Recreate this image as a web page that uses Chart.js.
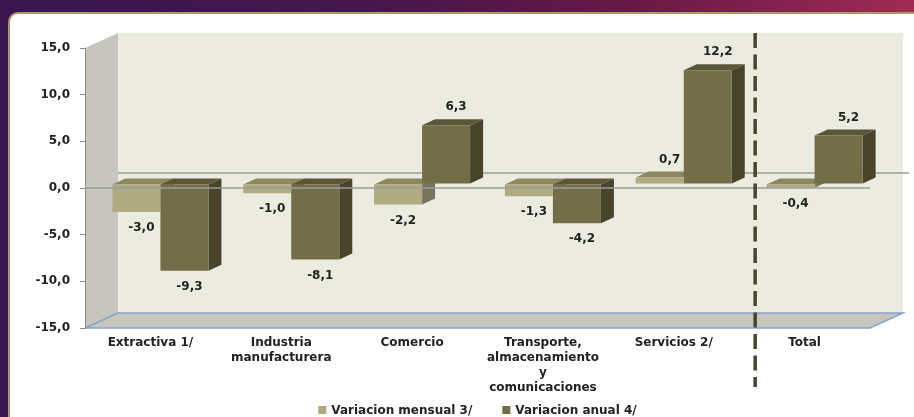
<!DOCTYPE html>
<html>
<head>
<meta charset="utf-8">
<script src="https://cdn.jsdelivr.net/npm/chart.js@4.4.1/dist/chart.umd.min.js"></script>
<style>
  html, body { margin: 0; padding: 0; }
  body {
    width: 914px; height: 417px; overflow: hidden; position: relative;
    background: linear-gradient(90deg, #3a164f 0%, #45164a 40%, #6a1846 70%, #a02a55 100%);
  }
  #panel {
    position: absolute; left: 8px; top: 12px; width: 920px; height: 420px;
    background: #fff; border: 2px solid #a99a6a; border-top-left-radius: 10px;
  }
  #wrap { position: absolute; left: 0; top: 0; width: 914px; height: 417px; }
</style>
</head>
<body>
<div id="panel"></div>
<div id="wrap"><canvas id="chart" width="914" height="417"></canvas></div>
<script>
// data
const categories = [
  ['Extractiva 1/'],
  ['Industria', 'manufacturera'],
  ['Comercio'],
  ['Transporte,', 'almacenamiento', 'y', 'comunicaciones'],
  ['Servicios 2/'],
  ['Total']
];
const seriesNames = ['Variacion mensual 3/', 'Variacion anual 4/'];
const mensual = [-3.0, -1.0, -2.2, -1.3, 0.7, -0.4];
const anual = [-9.3, -8.1, 6.3, -4.2, 12.2, 5.2];
const yMin = -15, yMax = 15, yStep = 5;

// colours: front, top, side
const lightFaces = ['#b0aa80', '#8b8762', '#77755d'];
const darkFaces = ['#736d48', '#5a5638', '#48442c'];

const FONT = { family: 'DejaVu Sans', size: 12, weight: 'bold' };
const TEXT = '#222222';

// 3D look: wall depth and bar depth
const DX = 33, DY = -15;      // wall depth
const BX = 10, BY = -4;       // bars sit mid depth
const EX = 13, EY = -6;       // bar extrusion

function fmt(v) { return v.toFixed(1).replace('.', ','); }

function poly(ctx, pts, fill) {
  ctx.beginPath();
  ctx.moveTo(pts[0][0], pts[0][1]);
  for (let i = 1; i < pts.length; i++) ctx.lineTo(pts[i][0], pts[i][1]);
  ctx.closePath();
  ctx.fillStyle = fill;
  ctx.fill();
}

const box3d = {
  id: 'box3d',
  beforeDraw(chart) {
    const ctx = chart.ctx;
    const { left, right, top, bottom } = chart.chartArea;
    const y0 = chart.scales.y.getPixelForValue(0);
    ctx.save();
    // back wall
    poly(ctx, [[left + DX, top + DY], [right + DX, top + DY], [right + DX, bottom + DY], [left + DX, bottom + DY]], '#ecebe0');
    // side wall
    poly(ctx, [[left, top], [left + DX, top + DY], [left + DX, bottom + DY], [left, bottom]], '#c7c6be');
    // floor
    poly(ctx, [[left, bottom], [left + DX, bottom + DY], [right + DX, bottom + DY], [right, bottom]], '#c7c6be');
    ctx.strokeStyle = '#86a2cc';
    ctx.lineWidth = 1.5;
    ctx.beginPath();
    ctx.moveTo(left, bottom);
    ctx.lineTo(left + DX, bottom + DY);
    ctx.lineTo(right + DX, bottom + DY);
    ctx.lineTo(right, bottom);
    ctx.lineTo(left, bottom);
    ctx.stroke();
    // zero line on the back wall
    ctx.strokeStyle = '#9b9b9b';
    ctx.lineWidth = 1.5;
    ctx.beginPath();
    ctx.moveTo(left + DX, y0 + DY);
    ctx.lineTo(right + DX + 6, y0 + DY);
    ctx.stroke();
    ctx.restore();
  },
  beforeDatasetsDraw(chart) {
    const ctx = chart.ctx;
    ctx.save();
    ctx.translate(BX, BY);
    [lightFaces, darkFaces].forEach((faces, di) => {
      chart.getDatasetMeta(di).data.forEach(el => {
        const { x, y, base, width } = el.getProps(['x', 'y', 'base', 'width'], true);
        const l = x - width / 2, r = x + width / 2;
        const t = Math.min(y, base), b = Math.max(y, base);
        poly(ctx, [[r, t], [r + EX, t + EY], [r + EX, b + EY], [r, b]], faces[2]);
        poly(ctx, [[l, t], [l + EX, t + EY], [r + EX, t + EY], [r, t]], faces[1]);
      });
    });
  },
  afterDatasetsDraw(chart) {
    const ctx = chart.ctx;
    ctx.restore();
    const { left, right, top, bottom } = chart.chartArea;
    const xs = chart.scales.x, ys = chart.scales.y;
    const y0 = ys.getPixelForValue(0);
    ctx.save();
    // front zero line
    ctx.strokeStyle = '#9b9b9b';
    ctx.lineWidth = 1.5;
    ctx.beginPath();
    ctx.moveTo(left, y0);
    ctx.lineTo(right, y0);
    ctx.stroke();

    // value labels
    ctx.font = 'bold 12px "DejaVu Sans"';
    ctx.fillStyle = TEXT;
    ctx.textAlign = 'center';
    ctx.textBaseline = 'middle';
    [mensual, anual].forEach((vals, di) => {
      chart.getDatasetMeta(di).data.forEach((el, i) => {
        const { x, y, base } = el.getProps(['x', 'y', 'base'], true);
        const v = vals[i];
        if (v < 0) {
          ctx.fillText(fmt(v), x + BX + 5, Math.max(y, base) + BY + 16);
        } else {
          ctx.fillText(fmt(v), x + BX + 10, Math.min(y, base) + BY - 18);
        }
      });
    });

    // dashed separator before Total
    const sx = (xs.getPixelForTick(4) + xs.getPixelForTick(5)) / 2 + 16;
    ctx.strokeStyle = '#48452f';
    ctx.lineWidth = 3.5;
    ctx.setLineDash([15, 6.5]);
    ctx.beginPath();
    ctx.moveTo(sx, top + DY);
    ctx.lineTo(sx, bottom + 59);
    ctx.stroke();
    ctx.setLineDash([]);

    // legend
    const ly = 410;
    const items = seriesNames.map((n, i) => ({ n, c: chart.data.datasets[i].backgroundColor, w: ctx.measureText(n).width }));
    const gap = 30;
    const total = items.reduce((s, it) => s + 13 + it.w, 0) + gap;
    let cx = (left + right) / 2 - total / 2;
    ctx.textAlign = 'left';
    items.forEach(it => {
      ctx.fillStyle = it.c;
      ctx.fillRect(cx, ly - 4, 8, 8);
      ctx.fillStyle = TEXT;
      ctx.fillText(it.n, cx + 13, ly + 1);
      cx += 13 + it.w + gap;
    });
    ctx.restore();
  }
};

new Chart(document.getElementById('chart'), {
  type: 'bar',
  data: {
    labels: categories,
    datasets: [
      { label: seriesNames[0], data: mensual, backgroundColor: lightFaces[0], borderWidth: 0, clip: false },
      { label: seriesNames[1], data: anual, backgroundColor: darkFaces[0], borderWidth: 0, clip: false }
    ]
  },
  options: {
    responsive: false,
    animation: false,
    devicePixelRatio: 1,
    layout: { padding: { top: 48, right: 44, left: 0, bottom: 0 } },
    datasets: { bar: { categoryPercentage: 0.734, barPercentage: 1.0 } },
    scales: {
      x: {
        grid: { display: false, drawTicks: false },
        border: { display: false },
        ticks: { font: { ...FONT, lineHeight: 1.25 }, color: TEXT, padding: 7, maxRotation: 0, autoSkip: false },
        afterFit: s => { s.height = 89; }
      },
      y: {
        min: yMin,
        max: yMax,
        ticks: { stepSize: yStep, font: FONT, color: TEXT, padding: 10, callback: v => fmt(v) },
        grid: { drawOnChartArea: false, tickLength: 5, tickColor: '#8c8c8c' },
        border: { color: '#8c8c8c' },
        afterFit: s => { s.width = 85; }
      }
    },
    plugins: {
      legend: { display: false },
      tooltip: { enabled: false }
    }
  },
  plugins: [box3d]
});
</script>
</body>
</html>
